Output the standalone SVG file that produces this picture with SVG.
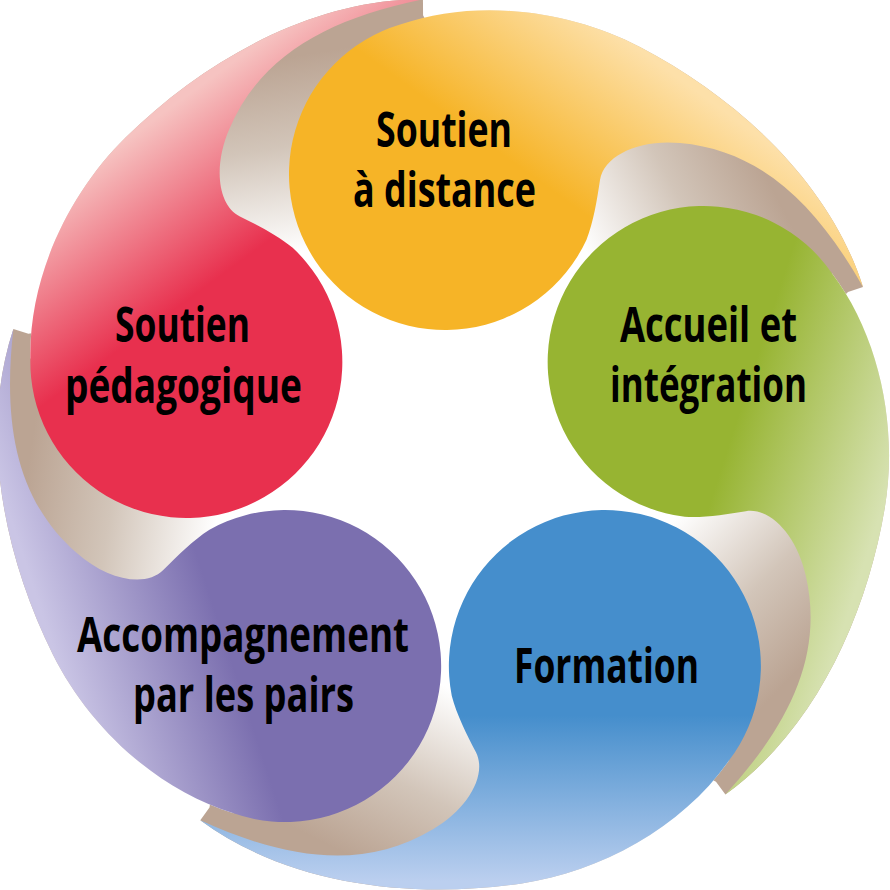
<svg xmlns="http://www.w3.org/2000/svg" width="890" height="890" viewBox="0 0 890 890">
  <style>
    .lbl { font-family: "Open Sans", "Liberation Sans", sans-serif; font-weight: 700; font-size: 48px; fill: #000000; }
  </style>
  <defs>
    <path id="swoosh" d="M 400.2,24.6 C 477,-2 569,10 640,47 C 737.5,98 829.5,182 863,287 C 816,204 760,150 680,143 C 640,139 604,155 600,180 C 597,200 593.5,222 586.4,239.9 A 156 156 0 1 1 400.2,24.6 Z"/>
    <path id="fold" d="M 863,287 C 829.5,182 737.5,98 640,47 C 569,10 477,-2 400.2,24.6 L 445,174 L 560,250 L 620,320 L 820,320 L 848,292 Z"/>
    <linearGradient id="gFold" gradientUnits="userSpaceOnUse" x1="588" y1="255" x2="760" y2="165">
      <stop offset="0" stop-color="#FFFFFF"/>
      <stop offset="0.55" stop-color="#D2C5B9"/>
      <stop offset="1" stop-color="#BBA493"/>
    </linearGradient>
    <linearGradient id="gOrange" gradientUnits="userSpaceOnUse" x1="474" y1="134" x2="571" y2="0">
      <stop offset="0" stop-color="#F6B427"/>
      <stop offset="1" stop-color="#FDE0A9"/>
    </linearGradient>
    <linearGradient id="gGreen" gradientUnits="userSpaceOnUse" x1="474" y1="134" x2="571" y2="0">
      <stop offset="0" stop-color="#97B432"/>
      <stop offset="1" stop-color="#D7E2B2"/>
    </linearGradient>
    <linearGradient id="gBlue" gradientUnits="userSpaceOnUse" x1="474" y1="134" x2="571" y2="0">
      <stop offset="0" stop-color="#458ECC"/>
      <stop offset="1" stop-color="#BBCFEF"/>
    </linearGradient>
    <linearGradient id="gPurple" gradientUnits="userSpaceOnUse" x1="474" y1="134" x2="571" y2="0">
      <stop offset="0" stop-color="#7B6FAF"/>
      <stop offset="1" stop-color="#CAC5E5"/>
    </linearGradient>
    <linearGradient id="gRed" gradientUnits="userSpaceOnUse" x1="474" y1="134" x2="571" y2="0">
      <stop offset="0" stop-color="#E8304E"/>
      <stop offset="1" stop-color="#F6C3C1"/>
    </linearGradient>
  </defs>

  <rect width="890" height="890" fill="#FFFFFF"/>

  <g id="folds">
    <use href="#fold" fill="url(#gFold)"/>
    <use href="#fold" fill="url(#gFold)" transform="rotate(72 445 446)"/>
    <use href="#fold" fill="url(#gFold)" transform="rotate(144 445 446)"/>
    <use href="#fold" fill="url(#gFold)" transform="rotate(216 445 446)"/>
    <use href="#fold" fill="url(#gFold)" transform="rotate(288 445 446)"/>
  </g>

  <g id="node-soutien-distance">
    <use href="#swoosh" fill="url(#gOrange)"/>
    <text class="lbl" x="376" y="147" textLength="136" lengthAdjust="spacingAndGlyphs">Soutien</text>
    <text class="lbl" x="353" y="207" textLength="183" lengthAdjust="spacingAndGlyphs">à distance</text>
  </g>

  <g id="node-accueil-integration">
    <use href="#swoosh" fill="url(#gGreen)" transform="rotate(72 445 446)"/>
    <text class="lbl" x="620" y="342" textLength="177" lengthAdjust="spacingAndGlyphs">Accueil et</text>
    <text class="lbl" x="610" y="402" textLength="197" lengthAdjust="spacingAndGlyphs">intégration</text>
  </g>

  <g id="node-formation">
    <use href="#swoosh" fill="url(#gBlue)" transform="rotate(144 445 446)"/>
    <text class="lbl" x="514" y="683" textLength="185" lengthAdjust="spacingAndGlyphs">Formation</text>
  </g>

  <g id="node-accompagnement">
    <use href="#swoosh" fill="url(#gPurple)" transform="rotate(216 445 446)"/>
    <text class="lbl" x="77" y="652" textLength="332" lengthAdjust="spacingAndGlyphs">Accompagnement</text>
    <text class="lbl" x="133" y="712" textLength="221" lengthAdjust="spacingAndGlyphs">par les pairs</text>
  </g>

  <g id="node-soutien-pedagogique">
    <use href="#swoosh" fill="url(#gRed)" transform="rotate(288 445 446)"/>
    <text class="lbl" x="115" y="342" textLength="135" lengthAdjust="spacingAndGlyphs">Soutien</text>
    <text class="lbl" x="65" y="403" textLength="237" lengthAdjust="spacingAndGlyphs">pédagogique</text>
  </g>
</svg>
